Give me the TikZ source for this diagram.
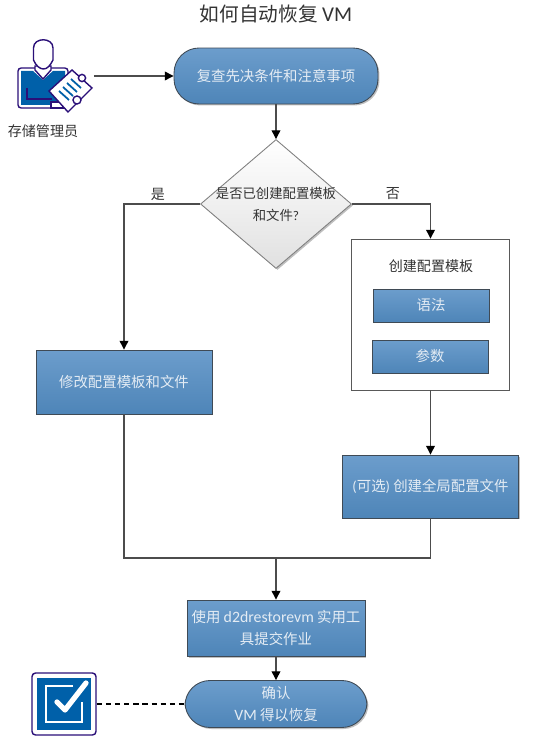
\documentclass[tikz,border=0pt]{standalone}
\usepackage{fontspec}
\setmainfont{Noto Sans CJK SC}
\newfontfamily\lat{Carlito}
\usetikzlibrary{arrows.meta,shapes.geometric,shadows}
\definecolor{boxtop}{HTML}{6C9DCC}
\definecolor{boxbot}{HTML}{4E85B8}
\definecolor{boxline}{HTML}{3F4A55}
\definecolor{iconline}{HTML}{2A0F78}
\definecolor{iconblue}{HTML}{0060A9}
\definecolor{txtlight}{HTML}{E4ECF4}
\definecolor{txtdark}{HTML}{333333}
\tikzset{
  softshadow/.style={drop shadow={shadow xshift=0.03cm,shadow yshift=-0.03cm,opacity=0.25,fill=black}},
  flowbox/.style={draw=boxline,line width=0.5pt,top color=boxtop,bottom color=boxbot,softshadow,
    text=txtlight,align=center,font=\fontsize{8.2}{12}\selectfont,inner sep=2pt},
  flowpill/.style={flowbox,rounded corners=0.5cm},
  decision/.style={diamond,draw=gray,line width=0.5pt,top color=white,bottom color=black!12,softshadow,
    inner sep=0pt,minimum width=3.02cm,minimum height=2.58cm},
  plainlab/.style={text=txtdark,align=center,font=\fontsize{8}{13}\selectfont},
  link/.style={draw=black!70,line width=0.65pt},
  arrowlink/.style={link,-{Triangle[length=5pt,width=5pt,color=black]}},
}
\begin{document}
\begin{tikzpicture}[x=0.02cm,y=-0.02cm]
\useasboundingbox (0,0) rectangle (533,736);
\node[text=txtdark,font=\fontsize{11.2}{14}\selectfont] (title) at (276,14) {如何自动恢复 {\lat\fontsize{12}{14}\selectfont VM}};
% person with clipboard
\node[minimum width=1.52cm,minimum height=1.44cm,inner sep=0pt] (admin) at (55.5,76) {};
\begin{scope}[line width=0.8pt]
    \draw[iconline,fill=white,rounded corners=1.8pt] (18,68) rectangle (68,108);
    \fill[iconblue] (21,71) -- (33,71) -- (43,80) -- (53,71) -- (65,71) -- (65,105) -- (21,105) -- cycle;
    \draw[iconline,fill=white] (35,66) -- (35,70) -- (43,79) -- (51,70) -- (51,66) -- cycle;
    \draw[iconline] (27,88) -- (27,99) -- (52,99);
    \draw[iconline,fill=white] (33.5,60) -- (33.5,48) .. controls (33.5,37) and (53,37) .. (53,48) -- (53,60) .. controls (50,66) and (47,69) .. (43.5,69) .. controls (40,69) and (36,66) .. (33.5,60) -- cycle;
    \draw[iconline,fill=white] (51,102) rectangle (63,108);
    \draw[iconline,fill=white] (49,91) -- (72,70) -- (92,88) -- (68,112) -- cycle;
    \draw[iconline,fill=white] (82,78) circle (3.6);
    \draw[iconline,fill=white] (77,100) circle (4);
    \foreach \i in {0,1,2,3} {
        \draw[iconblue,line width=1pt] (59+\i*4,91-\i*4) -- (69+\i*4,100-\i*4);
    }
\end{scope}
\node[plainlab] (adminlab) at (43,131) {存储管理员};
% main nodes
\node[flowpill,minimum width=4.08cm,minimum height=1.12cm] (review) at (276,76) {复查先决条件和注意事项};
\node[decision,label={[text=txtdark,align=center,font=\fontsize{7.6}{12.5}\selectfont]center:是否已创建配置模板\\和文件{\lat ?}}] (decide) at (276,204) {};
\node[flowbox,minimum width=3.52cm,minimum height=1.28cm] (modify) at (124,382) {修改配置模板和文件};
\node[draw=black!65,fill=white,line width=0.5pt,minimum width=3.16cm,minimum height=3.02cm] (create) at (430.5,314.5) {};
\node[plainlab] (createlab) at (431,266) {创建配置模板};
\node[flowbox,minimum width=2.32cm,minimum height=0.66cm] (syntax) at (431,305.5) {语法};
\node[flowbox,minimum width=2.32cm,minimum height=0.66cm] (params) at (430,356.5) {参数};
\node[flowbox,minimum width=3.52cm,minimum height=1.26cm] (globalcfg) at (430.5,486.5) {{\lat (}可选{\lat )} 创建全局配置文件};
\node[flowbox,minimum width=3.56cm,minimum height=1.12cm] (submit) at (276,628) {使用 {\lat\fontsize{9}{12}\selectfont d2drestorevm} 实用工\\具提交作业};
\node[flowpill,minimum width=3.64cm,minimum height=0.94cm] (confirm) at (276,704) {确认\\{\lat\fontsize{9}{12}\selectfont VM} 得以恢复};
% verified box
\node[draw=iconline,fill=white,line width=0.8pt,rounded corners=2pt,minimum width=1.28cm,minimum height=1.24cm,inner sep=0pt] (verified) at (64,704) {};
\fill[iconblue] (37,678) rectangle (91,730);
\draw[white,line width=1.4pt] (73,686) -- (46,686) -- (46,722) -- (82,722) -- (82,702);
\draw[white,line width=3pt,line cap=round,line join=round] (57,702) -- (65,710) -- (86,683);
% connectors
\coordinate (merge) at (276,558);
\draw[arrowlink] (admin.east) -- (review.west);
\draw[arrowlink] (review) -- (decide);
\draw[arrowlink] (decide.west) -| (modify.north);
\draw[arrowlink] (decide.east) -| (create.north);
\node[plainlab] (yeslab) at (158,194) {是};
\node[plainlab] (nolab) at (393,194) {否};
\draw[arrowlink] (create) -- (globalcfg);
\draw[link] (modify.south) |- (merge) -| (globalcfg.south);
\draw[arrowlink] (merge) -- (submit.north);
\draw[arrowlink] (submit) -- (confirm);
\draw[black,line width=1.1pt,dash pattern=on 3pt off 2.2pt] (verified.east) -- (confirm.west);
\end{tikzpicture}
\end{document}
